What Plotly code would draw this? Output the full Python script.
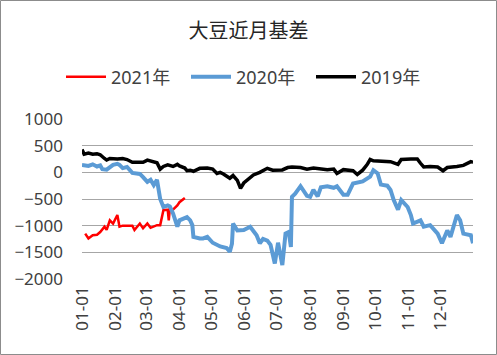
import plotly.graph_objects as go

# ---------------- data (MM-DD, value) ----------------
dates_2021 = ["01-04","01-07","01-11","01-15","01-18","01-22","01-24","01-27","01-30","02-03",
              "02-05","02-08","02-17","02-19","02-24","02-27","03-02","03-05","03-11","03-14",
              "03-17","03-21","03-22","03-23","03-26","03-30","04-01","04-06"]
vals_2021 = [-1150,-1240,-1180,-1170,-1120,-1020,-1080,-900,-960,-800,
             -1020,-1000,-1000,-1080,-960,-1050,-960,-1040,-990,-990,
             -710,-700,-900,-680,-700,-620,-560,-480]

dates_2020 = ["01-01","01-07","01-11","01-15","01-18","01-20","01-24","01-30","02-03","02-05",
              "02-08","02-12","02-17","02-24","02-27","03-02","03-05","03-08","03-11","03-14",
              "03-17","03-21","03-23","03-26","03-30","04-01","04-08","04-11","04-13","04-14",
              "04-20","04-23","04-27","05-02","05-09","05-15","05-18","05-20","05-21","05-25",
              "05-31","06-06","06-12","06-15","06-18","06-22","06-25","06-29","07-02","07-06",
              "07-09","07-12","07-14","07-15","07-18","07-23","07-29","08-01","08-04","08-08",
              "08-11","08-17","08-23","08-26","09-01","09-05","09-10","09-17","09-19","09-26",
              "09-29","10-03","10-06","10-12","10-15","10-18","10-22","10-25","10-31","11-03",
              "11-05","11-12","11-15","11-21","11-28","12-02","12-07","12-10","12-16","12-19",
              "12-22","12-29","12-31"]
vals_2020 = [140,120,150,110,130,60,50,140,160,140,
             80,100,-10,-30,-90,-180,-140,-240,-140,-500,
             -650,-620,-640,-770,-1020,-900,-840,-900,-990,-1210,
             -1240,-1240,-1210,-1320,-1390,-1420,-1490,-1340,-960,-1090,
             -1080,-1020,-1180,-1330,-1250,-1280,-1360,-1710,-1320,-1740,
             -1150,-1120,-1400,-460,-400,-260,-440,-460,-330,-450,
             -280,-260,-290,-260,-420,-420,-210,-190,-170,-80,
             40,-20,-230,-250,-330,-520,-700,-520,-650,-800,
             -960,-900,-1020,-990,-1150,-1330,-1090,-1210,-800,-900,
             -1150,-1180,-1330]

dates_2019 = ["01-01","01-03","01-07","01-11","01-15","01-18","01-22","01-24","01-27","02-03",
              "02-08","02-12","02-17","02-24","02-27","03-02","03-05","03-11","03-14","03-17",
              "03-21","03-26","03-30","04-01","04-06","04-08","04-11","04-14","04-20","04-27",
              "05-02","05-06","05-09","05-12","05-18","05-21","05-25","05-28","05-31","06-03",
              "06-09","06-15","06-22","06-27","07-06","07-11","07-15","07-23","07-29","08-04",
              "08-11","08-17","08-23","08-26","09-01","09-05","09-10","09-14","09-19","09-23",
              "09-26","09-29","10-06","10-15","10-22","10-25","11-03","11-09","11-12","11-15",
              "11-21","11-28","12-03","12-07","12-16","12-22","12-29","12-31"]
vals_2019 = [430,340,360,340,350,330,260,230,260,250,
             260,240,190,200,190,230,210,180,60,110,
             140,110,150,120,80,30,40,20,75,80,
             60,-20,0,-30,-110,-60,-150,-300,-200,-145,
             -50,0,75,40,45,90,100,90,60,80,
             70,50,60,-20,50,40,30,-40,40,140,
             240,215,210,200,150,240,250,250,170,100,
             110,100,30,90,110,130,200,190]

tick_labels = ["01-01","02-01","03-01","04-01","05-01","06-01",
               "07-01","08-01","09-01","10-01","11-01","12-01"]

BASE_YEAR = "2020-"

def to_dates(md):
    return [BASE_YEAR + d for d in md]

W, H = 497, 355
ML, MR, MT, MB = 82, 24, 119, 76

fig = go.Figure()
fig.add_trace(go.Scatter(x=to_dates(dates_2021), y=vals_2021, name="2021年", mode="lines",
                         line=dict(color="#FF0000", width=2.5)))
fig.add_trace(go.Scatter(x=to_dates(dates_2020), y=vals_2020, name="2020年", mode="lines",
                         line=dict(color="#5B9BD5", width=4)))
fig.add_trace(go.Scatter(x=to_dates(dates_2019), y=vals_2019, name="2019年", mode="lines",
                         line=dict(color="#000000", width=3.5)))

pw = W - ML - MR
ph = H - MT - MB

fig.update_layout(
    width=W, height=H,
    margin=dict(l=ML, r=MR, t=MT, b=MB, pad=0, autoexpand=False),
    paper_bgcolor="white", plot_bgcolor="white",
    font=dict(family="Noto Sans, Noto Sans CJK SC", color="#404040", size=14),
    title=dict(text="大豆近月基差", x=0.5, xanchor="center", y=1 - 31 / H, yanchor="middle",
               font=dict(family="Noto Sans CJK SC", size=20, color="#262626")),
    legend=dict(orientation="h", xref="container", yref="container",
                x=0.5, xanchor="center", y=1 - 77 / H, yanchor="middle",
                font=dict(family="Noto Sans, Noto Sans CJK SC", size=18, color="#404040"),
                entrywidth=70, entrywidthmode="pixels", itemwidth=40),
    showlegend=True,
    xaxis=dict(type="date", range=[BASE_YEAR + "01-01", BASE_YEAR + "12-31"],
               tickvals=to_dates(tick_labels), ticktext=tick_labels, tickangle=-90,
               showgrid=False, zeroline=False, showline=False, ticks="",
               ticklabelstandoff=3, automargin=False,
               tickfont=dict(size=17, color="#404040")),
    yaxis=dict(range=[-2000, 1000], dtick=500, tick0=0, showgrid=True,
               gridcolor="#A6A6A6", gridwidth=1, zeroline=False, showline=False,
               ticks="", ticklabelstandoff=18, automargin=False,
               tickfont=dict(size=17, color="#404040")),
    shapes=[dict(type="rect", xref="paper", yref="paper",
                 x0=(0.5 - ML) / pw, x1=(W - 0.5 - ML) / pw,
                 y0=(0.5 - MB) / ph, y1=(H - 0.5 - MB) / ph,
                 line=dict(color="#8C8C8C", width=1), fillcolor="rgba(0,0,0,0)", layer="below")],
)

fig.write_html("out.html",
               config={"displayModeBar": False},
               post_script="document.body.style.margin='0';document.body.style.overflow='hidden';")
